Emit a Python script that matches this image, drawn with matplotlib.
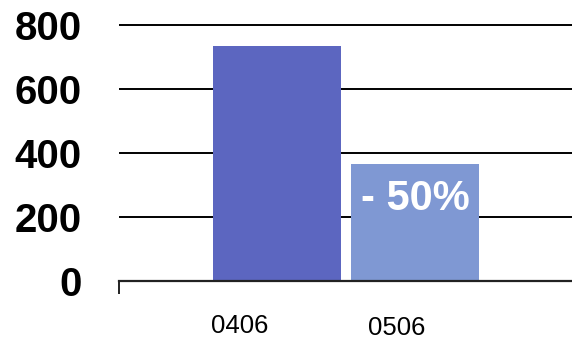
import matplotlib.pyplot as plt

plt.rcParams["font.family"] = ["Liberation Sans", "DejaVu Sans"]

periods = ["0406", "0506"]
values = [734, 366]
bar_colors = ["#5C66C0", "#7F98D3"]
change_label = "- 50%"
y_ticks = [0, 200, 400, 600, 800]

fig = plt.figure(figsize=(5.72, 3.40), dpi=100)
ax = fig.add_axes([119 / 572, 0.1735, 1 - 119 / 572, 0.932 - 0.1735])

x = list(range(len(periods)))
ax.bar(x, values, width=0.928, color=bar_colors, zorder=3)

ax.set_xlim(-1.145, 2.138)
ax.set_ylim(0, 805)

# horizontal rules behind the bars
ax.set_yticks(y_ticks)
ax.set_yticklabels([str(t) for t in y_ticks], fontsize=29, fontweight="bold")
ax.yaxis.grid(True, color="black", linewidth=1.4, zorder=0)
ax.tick_params(axis="y", length=0, pad=27)

# single tick at the left end of the baseline
ax.set_xticks([-1.145])
ax.set_xticklabels([""])
ax.tick_params(axis="x", direction="out", length=9.5, width=1.4, color="#222222")

for side in ["top", "right", "left"]:
    ax.spines[side].set_visible(False)
ax.spines["bottom"].set_color("#222222")
ax.spines["bottom"].set_linewidth(1.6)
ax.spines["bottom"].set_zorder(4)

# category labels sit a little left of each bar's centre, slightly staggered
label_offsets = [(-0.27, -0.174), (-0.13, -0.182)]
for xi, name, (dx, dy) in zip(x, periods, label_offsets):
    ax.text(xi + dx, dy, name, transform=ax.get_xaxis_transform(),
            ha="center", va="center", fontsize=18.5)

ax.text(x[1], values[1] * 0.7, change_label, ha="center", va="center",
        color="white", fontsize=30, fontweight="bold", zorder=5)

fig.savefig("out.png", dpi=100)
